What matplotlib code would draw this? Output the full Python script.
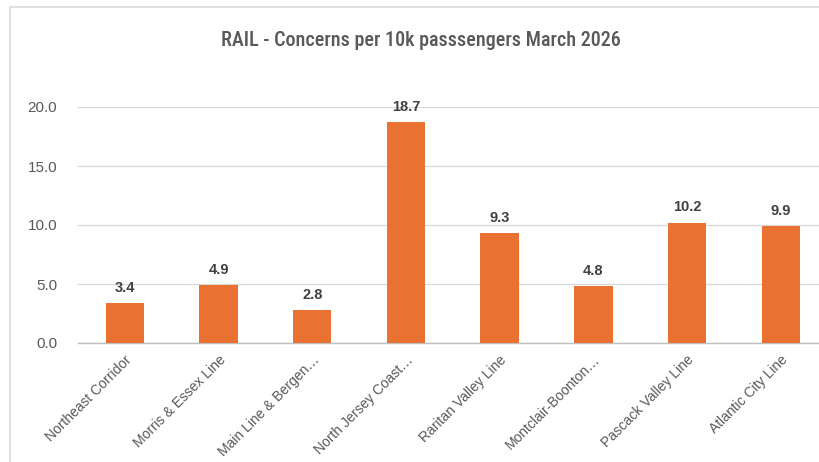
import matplotlib.pyplot as plt
import matplotlib.patches as patches
import numpy as np

lines = ['Northeast Corridor', 'Morris & Essex Line', 'Main Line & Bergen…',
         'North Jersey Coast…', 'Raritan Valley Line', 'Montclair-Boonton…',
         'Pascack Valley Line', 'Atlantic City Line']
concerns = [3.4, 4.9, 2.8, 18.7, 9.3, 4.8, 10.2, 9.9]
yticks = [0, 5, 10, 15, 20]

plt.rcParams['font.family'] = ['Liberation Sans', 'DejaVu Sans']

fig = plt.figure(figsize=(8.19, 4.62), dpi=100)
fig.patch.set_facecolor('white')

# chart border (cropped at right/bottom in the reference)
fig.patches.append(patches.Rectangle((10 / 819, -0.1), 1.2, (462 - 7) / 462 + 0.1,
                                     transform=fig.transFigure, fill=False,
                                     edgecolor='#d9d9d9', linewidth=1.2))

ax = fig.add_axes([78 / 819, (462 - 343) / 462, 749.6 / 819, 236 / 462])
x = np.arange(len(lines))
bars = ax.bar(x, concerns, width=0.41, color='#E97132', zorder=3)

ax.set_xlim(-0.5, len(lines) - 0.5)
ax.set_ylim(0, 20)
ax.set_yticks(yticks)
ax.set_yticklabels(['%.1f' % v for v in yticks], color='#595959', fontsize=11)
ax.grid(axis='y', color='#d9d9d9', linewidth=0.9, zorder=0)
ax.tick_params(axis='both', length=0)
ax.tick_params(axis='y', pad=15)
for s in ['top', 'right', 'left']:
    ax.spines[s].set_visible(False)
ax.spines['bottom'].set_color('#bfbfbf')
ax.spines['bottom'].set_linewidth(1.0)

ax.set_xticks(x)
ax.set_xticklabels(lines, rotation=45, ha='right', rotation_mode='anchor',
                   color='#595959', fontsize=10)
ax.tick_params(axis='x', pad=7)

for b, v in zip(bars, concerns):
    ax.annotate('%.1f' % v, (b.get_x() + b.get_width() / 2, v),
                xytext=(0, 6), textcoords='offset points', ha='center', va='bottom',
                fontsize=10.5, fontweight='bold', color='#404040')

fig.text(421 / 819, 1 - 40 / 462, 'RAIL - Concerns per 10k passsengers March 2026',
         ha='center', va='center', fontsize=14.5, color='#595959',
         family=['Roboto Condensed', 'Liberation Sans', 'DejaVu Sans'],
         fontweight='medium')

plt.savefig('out.png', dpi=100)
plt.close()
